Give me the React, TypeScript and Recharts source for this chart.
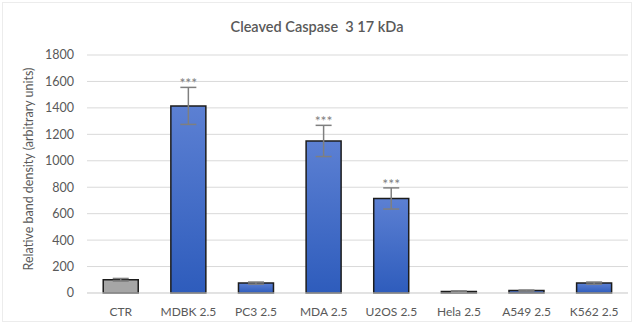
import { BarChart, Bar, XAxis, YAxis, CartesianGrid, ErrorBar, Cell, LabelList } from 'recharts'

const categories = ['CTR', 'MDBK 2.5', 'PC3 2.5', 'MDA 2.5', 'U2OS 2.5', 'Hela 2.5', 'A549 2.5', 'K562 2.5']
const values = [100, 1415, 75, 1150, 715, 12, 18, 75]
const errors = [10, 140, 8, 118, 80, 4, 4, 8]
const marks = ['', '***', '', '***', '***', '', '', '']
const yTicks = [0, 200, 400, 600, 800, 1000, 1200, 1400, 1600, 1800]

const data = categories.map((name, i) => ({ name, value: values[i], err: errors[i], mark: marks[i] }))

const FONT = 'Lato, "Open Sans", sans-serif'
const TEXT = '#595959'

// significance stars sit just above the top whisker
function StarLabel(props: any) {
  const { x, y, width, height, index } = props
  const mark = marks[index]
  if (!mark) return null
  const pxPerUnit = height / values[index]
  const top = y - errors[index] * pxPerUnit
  return (
    <text x={x + width / 2} y={top + 1} textAnchor="middle" fill="#7f7f7f" fontSize={14} fontFamily={FONT}>
      {mark}
    </text>
  )
}

export default function App() {
  return (
    <div style={{ width: 634, height: 324, position: 'relative', background: '#fff' }}>
      <style>{`body{margin:0}`}</style>
      <div style={{ position: 'absolute', inset: 2, border: '1px solid #ececec' }} />
      <div
        style={{
          position: 'absolute',
          top: 18,
          width: 634,
          textAlign: 'center',
          fontFamily: FONT,
          fontSize: 14.5,
          fontWeight: 600,
          color: TEXT,
        }}
      >
        Cleaved Caspase&nbsp; 3 17 kDa
      </div>
      <div
        style={{
          position: 'absolute',
          left: 28,
          top: 169,
          transform: 'translate(-50%, -50%) rotate(-90deg)',
          whiteSpace: 'nowrap',
          fontFamily: FONT,
          fontSize: 12.5,
          color: TEXT,
        }}
      >
        Relative band density (arbitrary units)
      </div>
      <BarChart
        width={634}
        height={324}
        data={data}
        barCategoryGap="24%"
        margin={{ top: 55, right: 6, bottom: 0, left: 40 }}
        style={{ position: 'absolute', top: 0, left: 0 }}
      >
        <defs>
          <linearGradient id="blueFill" x1="0" y1="0" x2="0" y2="1">
            <stop offset="0%" stopColor="#5c80d3" />
            <stop offset="100%" stopColor="#2e5cbc" />
          </linearGradient>
        </defs>
        <CartesianGrid vertical={false} stroke="#d9d9d9" strokeWidth={1} />
        <XAxis
          dataKey="name"
          height={31}
          axisLine={{ stroke: '#d9d9d9' }}
          tickLine={false}
          tick={{ fill: TEXT, fontSize: 12, fontFamily: FONT }}
          tickMargin={8}
          interval={0}
        />
        <YAxis
          width={47}
          domain={[0, 1800]}
          ticks={yTicks}
          axisLine={false}
          tickLine={false}
          tick={{ fill: TEXT, fontSize: 12.5, fontFamily: FONT }}
          tickMargin={7}
        />
        <Bar dataKey="value" stroke="#1c1c1c" strokeWidth={1.5} isAnimationActive={false}>
          {data.map((d, i) => (
            <Cell key={d.name} fill={i === 0 ? '#a6a6a6' : 'url(#blueFill)'} />
          ))}
          <ErrorBar dataKey="err" width={8} stroke="#7f7f7f" strokeWidth={1.5} direction="y" />
          <LabelList dataKey="mark" content={StarLabel} />
        </Bar>
      </BarChart>
    </div>
  )
}
